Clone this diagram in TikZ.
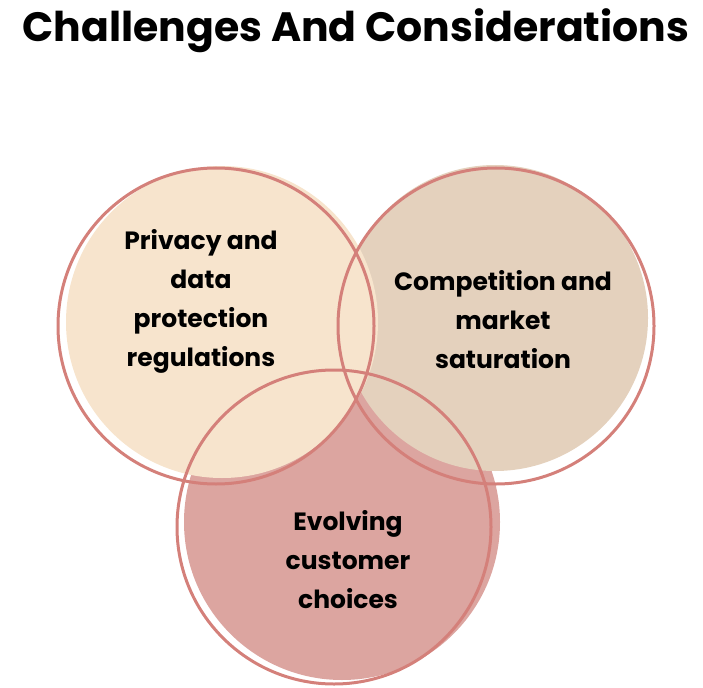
\documentclass[tikz,border=0pt]{standalone}
\usepackage{fontspec}
\setmainfont{Poppins}
\definecolor{lfill}{HTML}{F7E4CD}
\definecolor{rfill}{HTML}{E4D1BD}
\definecolor{bfill}{HTML}{DCA5A0}
\definecolor{ring}{HTML}{D4807A}
\begin{document}
\begin{tikzpicture}[x=1pt,y=-1pt,
  ringst/.style={draw=ring,line width=3pt},
  lab/.style={align=center,font=\bfseries\fontsize{25}{39}\selectfont,text=black}]
\useasboundingbox (0,0) rectangle (703,687);
\fill[bfill] (342,522) circle (158);
\fill[rfill] (495,318) circle (153);
\fill[lfill] (222,322) circle (156);
\draw[ringst] (216,326) circle (158);
\draw[ringst] (496,326) circle (158);
\draw[ringst] (334,527) circle (157);
\node[font=\bfseries\fontsize{41}{46}\selectfont] (title) at (356,31) {Challenges And Considerations};
\node[lab] (l) at (201,301) {Privacy and\\data\\protection\\regulations};
\node[lab] (r) at (503,320) {Competition and\\market\\saturation};
\node[lab] (b) at (348,560) {Evolving\\customer\\choices};
\end{tikzpicture}
\end{document}
